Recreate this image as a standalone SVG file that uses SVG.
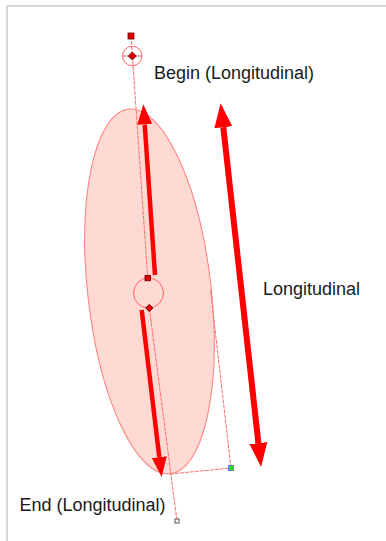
<svg xmlns="http://www.w3.org/2000/svg" width="386" height="541" viewBox="0 0 386 541">
<defs>
<style>
.thin{fill:none;stroke:#ff6e6e;stroke-width:1;stroke-dasharray:4 1}
.handle{fill:#e00000;stroke:#6a0000;stroke-width:0.8}
.lbl{font-family:"Liberation Sans",Arial,sans-serif;font-size:18px;fill:#1a1a1a}
.big{stroke:#ff0000;fill:none}
</style>
<marker id="hR" markerUnits="userSpaceOnUse" markerWidth="26" markerHeight="20" viewBox="0 -10 26 20" refX="0" refY="0" orient="auto-start-reverse"><path d="M0,-9 L24,0 L0,9 z" fill="#ff0000"/></marker>
<marker id="hL" markerUnits="userSpaceOnUse" markerWidth="22" markerHeight="18" viewBox="0 -9 22 18" refX="0" refY="0" orient="auto-start-reverse"><path d="M0,-7.5 L20,0 L0,7.5 z" fill="#ff0000"/></marker>
</defs>
<rect width="386" height="541" fill="#ffffff"/>
<path d="M7,541 V6 H386" fill="none" stroke="#d8d8d8" stroke-width="2"/>
<g id="ellipse">
<ellipse cx="149.5" cy="291.5" rx="61.7" ry="183.6" transform="rotate(-6.5 149.5 291.5)" fill="#ffdad3" stroke="#ff7b7b" stroke-width="1"/>
</g>
<g id="connectors">
<line class="thin" x1="131" y1="36" x2="147.7" y2="278"/>
<line class="thin" x1="149.3" y1="308" x2="177" y2="521"/>
<line class="thin" x1="170" y1="474" x2="231" y2="468"/>
<line class="thin" x1="231" y1="468" x2="210.5" y2="290"/>
<line class="big" stroke-width="4.5" x1="155" y1="275" x2="144.7" y2="124.3" marker-end="url(#hL)"/>
<line class="big" stroke-width="4.5" x1="141.7" y1="310" x2="159.3" y2="457.1" marker-end="url(#hL)"/>
<line class="big" stroke-width="6" x1="223.3" y1="127.2" x2="258.4" y2="443.1" marker-start="url(#hR)" marker-end="url(#hR)"/>
</g>
<g id="begin-handle">
<rect class="handle" x="128" y="33" width="6" height="6"/>
<circle cx="132.3" cy="56" r="9.7" fill="none" stroke="#ff6060" stroke-width="1"/>
<line x1="122.6" y1="56" x2="142" y2="56" stroke="#ff6060" stroke-width="1"/>
<polygon class="handle" points="132.3,52 136.3,56 132.3,60 128.3,56"/>
</g>
<g id="center-handle">
<circle cx="148.5" cy="293" r="15" fill="none" stroke="#ff6060" stroke-width="1"/>
<rect class="handle" x="145" y="275.3" width="5.5" height="5.5"/>
<polygon class="handle" points="149.3,304.3 153,308 149.3,311.7 145.6,308"/>
</g>
<g id="end-handle">
<rect x="175" y="519" width="4" height="4" fill="#ffffff" stroke="#555555" stroke-width="1"/>
</g>
<g id="width-handle">
<rect x="228.5" y="465.5" width="5" height="5" fill="#22dd22" stroke="#6060ff" stroke-width="0.8"/>
</g>
<g id="label-begin"><text class="lbl" x="154" y="78.5">Begin (Longitudinal)</text></g>
<g id="label-longitudinal"><text class="lbl" x="263" y="295">Longitudinal</text></g>
<g id="label-end"><text class="lbl" x="19.5" y="511">End (Longitudinal)</text></g>
</svg>
